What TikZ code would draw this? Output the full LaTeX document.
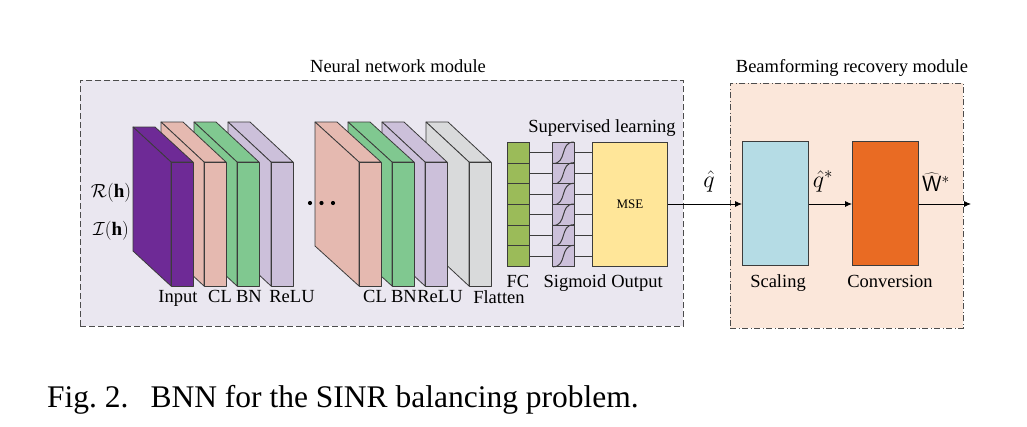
\RequirePackage{fix-cm}
\documentclass[tikz,border=0pt]{standalone}
\usepackage{fontspec}
\setmainfont{Liberation Serif}
\usetikzlibrary{arrows.meta}
\definecolor{nnbg}{RGB}{234,231,240}
\definecolor{bfbg}{RGB}{251,231,218}
\definecolor{cpurple}{RGB}{110,42,150}
\definecolor{cpink}{RGB}{229,185,176}
\definecolor{cgreen}{RGB}{128,200,144}
\definecolor{clav}{RGB}{204,192,218}
\definecolor{cgray}{RGB}{217,218,219}
\definecolor{cfc}{RGB}{155,187,89}
\definecolor{cmse}{RGB}{255,230,153}
\definecolor{cscal}{RGB}{181,220,229}
\definecolor{cconv}{RGB}{233,107,35}
\definecolor{lineg}{RGB}{60,60,60}
\tikzset{
  slabline/.style={draw=lineg, line width=0.8pt, line join=round},
  lbl/.style={font=\fontsize{18.5}{22}\selectfont, anchor=base, inner sep=0pt},
  mlbl/.style={font=\fontsize{24}{28}\selectfont, inner sep=0pt, anchor=base},
  cellbox/.style={draw=lineg, line width=0.8pt, inner sep=0pt, minimum width=22pt, minimum height=20.67pt, anchor=north west},
  bigbox/.style={draw=lineg, line width=0.8pt, inner sep=0pt, anchor=north west},
  conn/.style={draw=lineg, line width=0.8pt},
  sig/.style={draw=lineg, line width=1pt},
  arr/.style={draw=black, line width=0.8pt, -{Latex[length=7pt,width=6pt]}},
  nnframe/.style={draw=black!70, line width=0.8pt, dash pattern=on 6pt off 3pt, fill=nnbg, inner sep=0pt, anchor=north west},
  bfframe/.style={draw=black!70, line width=0.8pt, dash pattern=on 6pt off 2.5pt on 1pt off 2.5pt, fill=bfbg, inner sep=0pt, anchor=north west}
}
\newcommand{\myslab}[4]{%
  \filldraw[slabline, fill=#4] (#1-#2,162-#3) -- (#1-#2+22,162-#3) -- (#1+22,162) -- (#1,162) -- cycle;
  \filldraw[slabline, fill=#4] (#1-#2,162-#3) -- (#1,162) -- (#1,286) -- (#1-#2,286-#3) -- cycle;
  \filldraw[slabline, fill=#4] (#1,162) rectangle (#1+22,286);
}
\begin{document}
\begin{tikzpicture}[x=1pt,y=-1pt]
\useasboundingbox[fill=white] (0,0) rectangle (1027,426);
% frames
\node[nnframe, minimum width=603pt, minimum height=246pt] (nnbox) at (80,80) {};
\node[bfframe, minimum width=233pt, minimum height=245pt] (bfbox) at (730,83) {};
\node[lbl] (nntitle) at (398,72) {Neural network module};
\node[lbl] (bftitle) at (852,72) {Beamforming recovery module};
% slabs, group 2 (right to left)
\myslab{469}{43}{40}{cgray}
\myslab{425}{43}{40}{clav}
\myslab{392}{44}{40}{cgreen}
\myslab{359}{44}{40}{cpink}
% dots
\foreach \xx in {310,321.5,333} \fill[black] (\xx,203) circle (2.1pt);
% group 1
\myslab{271}{43}{40}{clav}
\myslab{237}{43}{40}{cgreen}
\myslab{204}{43}{40}{cpink}
\myslab{171}{38}{35}{cpurple}
% input labels
\node[font=\fontsize{19}{22}\selectfont, inner sep=0pt] (rh) at (111,193) {$\mathcal{R}(\mathbf{h})$};
\node[font=\fontsize{19}{22}\selectfont, inner sep=0pt] (ih) at (111,231) {$\mathcal{I}(\mathbf{h})$};
% layer labels
\node[lbl] at (178,302) {Input};
\node[lbl] at (220,302) {CL};
\node[lbl] at (249,302) {BN};
\node[lbl] at (292,302) {ReLU};
\node[lbl] at (375,302) {CL};
\node[lbl] at (404,302) {BN};
\node[lbl] at (440,302) {ReLU};
\node[lbl] at (499,303) {Flatten};
% FC and sigmoid cells
\foreach \i in {1,...,6} {
  \node[cellbox, fill=cfc] (fc\i) at (507,{142+(\i-1)*20.67}) {};
  \node[cellbox, fill=clav] (sg\i) at (552,{142+(\i-1)*20.67}) {};
  \draw[sig] ([xshift=1pt]sg\i.south west) .. controls ([xshift=4pt]sg\i.south) and ([xshift=-4pt]sg\i.north) .. ([xshift=-1pt]sg\i.north east);
}
% MSE
\node[bigbox, fill=cmse, minimum width=75pt, minimum height=124pt] (mse) at (592,142) {};
\node[font=\fontsize{13}{15}\selectfont, inner sep=0pt] at (mse.center) {MSE};
\foreach \i in {1,...,6} {
  \draw[conn] (fc\i.east) -- (sg\i.west);
  \draw[conn] (sg\i.east) -- (mse.west |- sg\i.east);
}
\node[lbl] at (602,132) {Supervised learning};
\node[lbl] at (518,287) {FC};
\node[lbl] at (575,287) {Sigmoid};
\node[lbl] at (637,287) {Output};
% recovery
\node[bigbox, fill=cscal, minimum width=66pt, minimum height=124pt] (scal) at (742,141) {};
\node[bigbox, fill=cconv, minimum width=66pt, minimum height=124pt] (conv) at (852,141) {};
\node[lbl] at (778,287) {Scaling};
\node[lbl] at (890,287) {Conversion};
\coordinate (outend) at (971,204);
\draw[arr] (mse.east |- 0,204) -- (scal.west |- 0,204);
\draw[arr] (scal.east |- 0,204) -- (conv.west |- 0,204);
\draw[arr] (conv.east |- 0,204) -- (outend);
\node[mlbl] (qh) at (709,187) {$\hat{q}$};
\node[mlbl] (qs) at (823,187) {$\hat{q}^{*}$};
\node[mlbl, font=\fontsize{22}{26}\selectfont] (ws) at (936,191) {$\widehat{\mathsf{W}}^{*}$};
% caption
\node[anchor=base west, inner sep=0pt, font=\fontsize{31.5}{36}\selectfont] (cap) at (47,407) {Fig.~2.\hspace{22pt}BNN for the SINR balancing problem.};
\end{tikzpicture}
\end{document}
